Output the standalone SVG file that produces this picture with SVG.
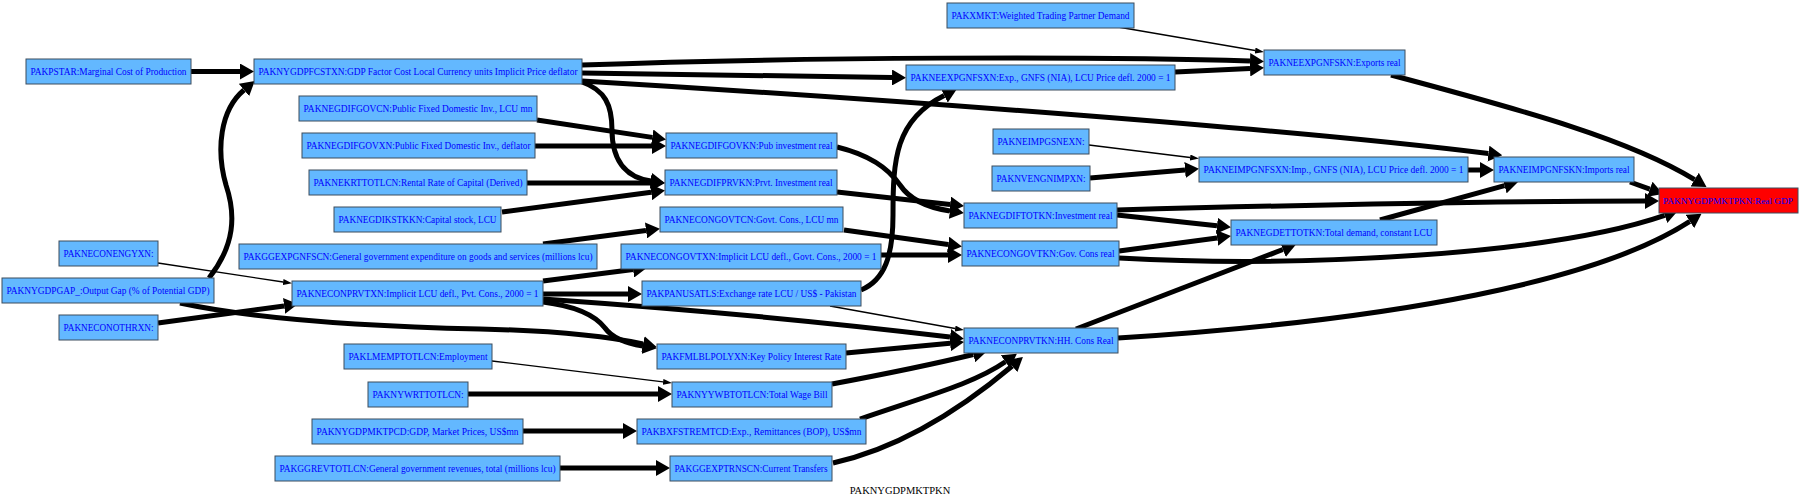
<svg xmlns="http://www.w3.org/2000/svg" width="1800" height="501" viewBox="0 0 1800 501">
<defs>
<style>
.n rect{fill:#63b8ff;stroke:#3c4c5c;stroke-width:1}
.n text{font-family:"Liberation Serif","Times New Roman",serif;font-size:10.5px;fill:#0000ff;text-anchor:middle}
#REALGDP rect{fill:#ff0000}
#REALGDP text{font-size:9px}
.e path{fill:none;stroke:#000;stroke-width:5}
.e path.t{stroke-width:1.3;marker-end:url(#ah2)}
.e path.k{marker-end:url(#ah)}
.title{font-family:"Liberation Serif","Times New Roman",serif;font-size:10.5px;fill:#000;text-anchor:middle}
</style>
<marker id="ah" viewBox="0 0 14 16" refX="0" refY="8" markerWidth="14" markerHeight="16" markerUnits="userSpaceOnUse" orient="auto"><path d="M0,0 L14,8 L0,16 z" fill="#000"/></marker>
<marker id="ah2" viewBox="0 0 9 6" refX="0" refY="3" markerWidth="9" markerHeight="6" markerUnits="userSpaceOnUse" orient="auto"><path d="M0,0 L9,3 L0,6 z" fill="#000"/></marker>
</defs>
<rect width="1800" height="501" fill="#fff"/>
<g id="edges" class="e">
<path class="k" d="M191,71.5 L240,71.5"/>
<path class="k" d="M209,278 C235,245 236,215 226,185 C216,150 220,110 244,90"/>
<path class="k" d="M582,65 C800,57 1100,56 1250,61"/>
<path class="k" d="M582,73 L892,77.5"/>
<path class="k" d="M582,81 C900,100 1300,130 1488.4,153.6"/>
<path class="k" d="M582,82 C605,90 612,105 612,130 C612,165 630,178 651,181"/>
<path class="k" d="M537,120 L652.2,137.4"/>
<path class="k" d="M535,146 L652,146"/>
<path class="k" d="M527,183 L651,183"/>
<path class="k" d="M502,212 L651.1,192.3"/>
<path class="k" d="M543,244 L646,230.5"/>
<path class="t" d="M158,263 L283.1,282"/>
<path class="k" d="M158,323 L284.1,305.9"/>
<path class="k" d="M180,303 C250,318 350,326 480,329 C570,331 615,338 643,344"/>
<path class="k" d="M543,281 L633.1,269.6"/>
<path class="k" d="M543,294 L628,294"/>
<path class="k" d="M543,299 C700,310 850,325 950,337"/>
<path class="k" d="M543,302 C575,306 595,315 605,328 C612,338 625,343 643,346"/>
<path class="k" d="M861,290 C885,280 893,255 893,215 C893,160 895,120 944.2,95.5"/>
<path class="t" d="M830,306 L955.1,328.5"/>
<path class="k" d="M837,147 C870,155 888,168 900,185 C910,200 930,208 950,211"/>
<path class="k" d="M837,192 L950.1,204.5"/>
<path class="k" d="M844,230 L948.1,244.6"/>
<path class="k" d="M881,255 L948,255"/>
<path class="t" d="M1118,27 L1255.1,50.5"/>
<path class="k" d="M1175,72 L1250,68.5"/>
<path class="t" d="M1089,145 L1190.1,157.5"/>
<path class="k" d="M1090,178 L1185,170"/>
<path class="k" d="M1468,170 L1480,170"/>
<path class="k" d="M1117,210 C1300,205 1500,201 1645,201"/>
<path class="k" d="M1117,215 L1217,225.7"/>
<path class="k" d="M1119,251 L1217.1,237.9"/>
<path class="k" d="M1119,258 C1300,268 1550,255 1664.7,215.4"/>
<path class="k" d="M1076,329 L1282.9,249.5"/>
<path class="k" d="M1118,338 C1400,320 1600,280 1689.8,221.4"/>
<path class="k" d="M1380,220 L1504.5,185.7"/>
<path class="k" d="M1391,75 C1530,112 1630,140 1694.6,179.6"/>
<path class="k" d="M1630,182 L1649.8,189.2"/>
<path class="t" d="M492,361 L663.1,381.9"/>
<path class="k" d="M468,394 L658,394"/>
<path class="k" d="M523,431 L623,431"/>
<path class="k" d="M560,468 L656,468"/>
<path class="k" d="M846,353 L950.1,343.3"/>
<path class="k" d="M832,384 C880,375 930,365 973.3,354.5"/>
<path class="k" d="M860,419 C930,395 975,383 1005.4,361.8"/>
<path class="k" d="M833,463 C900,448 960,410 1012.2,366"/>
</g>
<g id="PSTAR" class="n"><rect x="26" y="59" width="165" height="25"/><text x="108.5" y="75" textLength="156" lengthAdjust="spacingAndGlyphs">PAKPSTAR:Marginal Cost of Production</text></g>
<g id="FCSTXN" class="n"><rect x="254" y="59" width="328" height="25"/><text x="418" y="75" textLength="319" lengthAdjust="spacingAndGlyphs">PAKNYGDPFCSTXN:GDP Factor Cost Local Currency units Implicit Price deflator</text></g>
<g id="GOVCN" class="n"><rect x="299" y="96" width="238" height="25"/><text x="418" y="112" textLength="229" lengthAdjust="spacingAndGlyphs">PAKNEGDIFGOVCN:Public Fixed Domestic Inv., LCU mn</text></g>
<g id="GOVXN" class="n"><rect x="302" y="133" width="233" height="25"/><text x="418.5" y="149" textLength="224" lengthAdjust="spacingAndGlyphs">PAKNEGDIFGOVXN:Public Fixed Domestic Inv., deflator</text></g>
<g id="KRT" class="n"><rect x="309" y="170" width="218" height="25"/><text x="418" y="186" textLength="209" lengthAdjust="spacingAndGlyphs">PAKNEKRTTOTLCN:Rental Rate of Capital (Derived)</text></g>
<g id="KSTKKN" class="n"><rect x="334" y="207" width="167" height="25"/><text x="417.5" y="223" textLength="158" lengthAdjust="spacingAndGlyphs">PAKNEGDIKSTKKN:Capital stock, LCU</text></g>
<g id="GGEXPGNFSCN" class="n"><rect x="239" y="244" width="358" height="25"/><text x="418" y="260" textLength="349" lengthAdjust="spacingAndGlyphs">PAKGGEXPGNFSCN:General government expenditure on goods and services (millions lcu)</text></g>
<g id="ENGYXN" class="n"><rect x="59" y="241" width="99" height="25"/><text x="108.5" y="257" textLength="90" lengthAdjust="spacingAndGlyphs">PAKNECONENGYXN:</text></g>
<g id="GAP" class="n"><rect x="2" y="278" width="212" height="25"/><text x="108" y="294" textLength="203" lengthAdjust="spacingAndGlyphs">PAKNYGDPGAP_:Output Gap (% of Potential GDP)</text></g>
<g id="PRVTXN" class="n"><rect x="292" y="281" width="251" height="25"/><text x="417.5" y="297" textLength="242" lengthAdjust="spacingAndGlyphs">PAKNECONPRVTXN:Implicit LCU defl., Pvt. Cons., 2000 = 1</text></g>
<g id="OTHRXN" class="n"><rect x="59" y="315" width="99" height="25"/><text x="108.5" y="331" textLength="90" lengthAdjust="spacingAndGlyphs">PAKNECONOTHRXN:</text></g>
<g id="LMEMP" class="n"><rect x="344" y="344" width="148" height="25"/><text x="418" y="360" textLength="139" lengthAdjust="spacingAndGlyphs">PAKLMEMPTOTLCN:Employment</text></g>
<g id="WRT" class="n"><rect x="368" y="382" width="100" height="25"/><text x="418" y="398" textLength="91" lengthAdjust="spacingAndGlyphs">PAKNYWRTTOTLCN:</text></g>
<g id="GDPMKTPCD" class="n"><rect x="312" y="419" width="211" height="25"/><text x="417.5" y="435" textLength="202" lengthAdjust="spacingAndGlyphs">PAKNYGDPMKTPCD:GDP, Market Prices, US$mn</text></g>
<g id="GGREV" class="n"><rect x="275" y="456" width="285" height="25"/><text x="417.5" y="472" textLength="276" lengthAdjust="spacingAndGlyphs">PAKGGREVTOTLCN:General government revenues, total (millions lcu)</text></g>
<g id="XMKT" class="n"><rect x="947" y="3" width="187" height="25"/><text x="1040.5" y="19" textLength="178" lengthAdjust="spacingAndGlyphs">PAKXMKT:Weighted Trading Partner Demand</text></g>
<g id="EXPXN" class="n"><rect x="906" y="65" width="269" height="25"/><text x="1040.5" y="81" textLength="260" lengthAdjust="spacingAndGlyphs">PAKNEEXPGNFSXN:Exp., GNFS (NIA), LCU Price defl. 2000 = 1</text></g>
<g id="GOVKN" class="n"><rect x="666" y="133" width="171" height="25"/><text x="751.5" y="149" textLength="162" lengthAdjust="spacingAndGlyphs">PAKNEGDIFGOVKN:Pub investment real</text></g>
<g id="IMPSNEXN" class="n"><rect x="993" y="129" width="96" height="25"/><text x="1041" y="145" textLength="87" lengthAdjust="spacingAndGlyphs">PAKNEIMPGSNEXN:</text></g>
<g id="PRVKN" class="n"><rect x="665" y="170" width="172" height="25"/><text x="751" y="186" textLength="163" lengthAdjust="spacingAndGlyphs">PAKNEGDIFPRVKN:Prvt. Investment real</text></g>
<g id="GOVTCN" class="n"><rect x="660" y="207" width="183" height="25"/><text x="751.5" y="223" textLength="174" lengthAdjust="spacingAndGlyphs">PAKNECONGOVTCN:Govt. Cons., LCU mn</text></g>
<g id="GOVTXN" class="n"><rect x="621" y="244" width="260" height="25"/><text x="751" y="260" textLength="251" lengthAdjust="spacingAndGlyphs">PAKNECONGOVTXN:Implicit LCU defl., Govt. Cons., 2000 = 1</text></g>
<g id="PANUSATLS" class="n"><rect x="642" y="281" width="219" height="25"/><text x="751.5" y="297" textLength="210" lengthAdjust="spacingAndGlyphs">PAKPANUSATLS:Exchange rate LCU / US$ - Pakistan</text></g>
<g id="NVENG" class="n"><rect x="992" y="166" width="98" height="25"/><text x="1041" y="182" textLength="89" lengthAdjust="spacingAndGlyphs">PAKNVENGNIMPXN:</text></g>
<g id="GDIFTOTKN" class="n"><rect x="964" y="203" width="153" height="25"/><text x="1040.5" y="219" textLength="144" lengthAdjust="spacingAndGlyphs">PAKNEGDIFTOTKN:Investment real</text></g>
<g id="GOVTKN" class="n"><rect x="962" y="241" width="157" height="25"/><text x="1040.5" y="257" textLength="148" lengthAdjust="spacingAndGlyphs">PAKNECONGOVTKN:Gov. Cons real</text></g>
<g id="PRVTKN" class="n"><rect x="964" y="328" width="154" height="25"/><text x="1041" y="344" textLength="145" lengthAdjust="spacingAndGlyphs">PAKNECONPRVTKN:HH. Cons Real</text></g>
<g id="FMLBL" class="n"><rect x="657" y="344" width="189" height="25"/><text x="751.5" y="360" textLength="180" lengthAdjust="spacingAndGlyphs">PAKFMLBLPOLYXN:Key Policy Interest Rate</text></g>
<g id="YYWB" class="n"><rect x="672" y="382" width="160" height="25"/><text x="752" y="398" textLength="151" lengthAdjust="spacingAndGlyphs">PAKNYYWBTOTLCN:Total Wage Bill</text></g>
<g id="BXFS" class="n"><rect x="637" y="419" width="229" height="25"/><text x="751.5" y="435" textLength="220" lengthAdjust="spacingAndGlyphs">PAKBXFSTREMTCD:Exp., Remittances (BOP), US$mn</text></g>
<g id="GGEXPTRNS" class="n"><rect x="670" y="456" width="162" height="25"/><text x="751" y="472" textLength="153" lengthAdjust="spacingAndGlyphs">PAKGGEXPTRNSCN:Current Transfers</text></g>
<g id="EXPKN" class="n"><rect x="1264" y="50" width="141" height="25"/><text x="1334.5" y="66" textLength="132" lengthAdjust="spacingAndGlyphs">PAKNEEXPGNFSKN:Exports real</text></g>
<g id="IMPXN" class="n"><rect x="1199" y="157" width="269" height="25"/><text x="1333.5" y="173" textLength="260" lengthAdjust="spacingAndGlyphs">PAKNEIMPGNFSXN:Imp., GNFS (NIA), LCU Price defl. 2000 = 1</text></g>
<g id="IMPKN" class="n"><rect x="1494" y="157" width="140" height="25"/><text x="1564" y="173" textLength="131" lengthAdjust="spacingAndGlyphs">PAKNEIMPGNFSKN:Imports real</text></g>
<g id="GDETTOTKN" class="n"><rect x="1231" y="220" width="206" height="25"/><text x="1334" y="236" textLength="197" lengthAdjust="spacingAndGlyphs">PAKNEGDETTOTKN:Total demand, constant LCU</text></g>
<g id="REALGDP" class="n"><rect x="1659" y="188" width="139" height="25"/><text x="1728" y="204" textLength="130" lengthAdjust="spacingAndGlyphs">PAKNYGDPMKTPKN:Real GDP</text></g>
<text class="title" x="900" y="494">PAKNYGDPMKTPKN</text>
</svg>
